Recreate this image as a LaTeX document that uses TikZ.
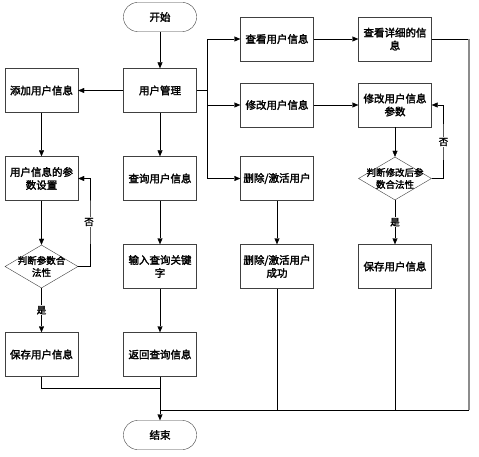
\documentclass[tikz,border=0pt]{standalone}
\usepackage{fontspec}
\setmainfont{Noto Sans CJK SC}[AutoFakeBold=2.2]
\usepackage{tikz}
\usetikzlibrary{arrows.meta,shapes.geometric,shadows}
\definecolor{Edge}{HTML}{404040}
\definecolor{Rail}{HTML}{8C8C8C}

\begin{document}
\begin{tikzpicture}[x=1pt,y=-1pt,font=\bfseries\fontsize{10.5}{13}\selectfont,
    >={Triangle[length=6pt,width=5pt]},
    box/.style={draw=Edge,fill=white,align=center,minimum width=73pt,minimum height=44pt,inner sep=1pt,
      drop shadow={shadow xshift=.8pt,shadow yshift=-.8pt,fill=black!25,opacity=1}},
    term/.style={draw=Edge,fill=white,rounded corners=14pt,minimum width=73pt,minimum height=29pt},
    decide/.style={draw=Edge,fill=white,diamond,aspect=1.7,minimum width=73pt,minimum height=43pt,inner sep=0pt},
    tag/.style={fill=white,inner sep=1pt,font=\bfseries\fontsize{9.5}{12}\selectfont}]
  \useasboundingbox (0,0) rectangle (479,457);
  % middle column
  \node[term] (start) at (160,17) {开始};
  \node[box] (mgr) at (160,90.5) {用户管理};
  \node[box] (query) at (160,178.5) {查询用户信息};
  \node[box] (kw) at (160,266.5) {输入查询关键\\字};
  \node[box] (ret) at (160,354.5) {返回查询信息};
  \node[term] (stop) at (160,435) {结束};
  % left column
  \node[box] (add) at (41.5,90.5) {添加用户信息};
  \node[box] (para) at (41.5,178.5) {用户信息的参\\数设置};
  \node[decide,label={[align=center,font=\bfseries\fontsize{9.5}{12}\selectfont]center:判断参数合\\法性}] (chk) at (41.5,266.5) {};
  \node[box] (saveL) at (41.5,354.5) {保存用户信息};
  % right columns
  \node[box] (view) at (277,39) {查看用户信息};
  \node[box] (detail) at (395,39) {查看详细的信\\息};
  \node[box] (mod) at (277,105) {修改用户信息};
  \node[box] (modp) at (395,105) {修改用户信息\\参数};
  \node[box] (del) at (277,178.5) {删除/激活用户};
  \node[decide,label={[align=center,font=\bfseries\fontsize{9.5}{12}\selectfont]center:判断修改后参\\数合法性}] (chk2) at (395,178.5) {};
  \node[box] (delok) at (277,266.5) {删除/激活用户\\成功};
  \node[box] (saveR) at (395,266.5) {保存用户信息};
  \coordinate (bus) at (207,90.5);
  \coordinate (j1) at (160,388);
  \coordinate (j2) at (160,410);
  \coordinate (rail) at (469,39);

  \draw[->] (start)--(mgr);\draw[->] (mgr)--(query);\draw[->] (query)--(kw);\draw[->] (kw)--(ret);\draw[->] (ret)--(stop);
  \draw[->] (mgr)--(add);\draw[->] (add)--(para);\draw[->] (para)--(chk);
  \draw[->] (chk.east)-|(90,222)|-(para.east);\node[tag] (no1) at (89,222) {否};
  \draw[->] (chk)--(saveL) node[tag,pos=.5] (yes1) {是};
  \draw (saveL.south)|-(j1);
  \draw (mgr.east)--(bus);\draw[->] (bus)|-(view.west);\draw[->] (bus)|-(mod.west);\draw[->] (bus)|-(del.west);
  \draw[->] (view)--(detail);\draw[->] (mod)--(modp);\draw[->] (modp)--(chk2);\draw[->] (del)--(delok);
  \draw[->] (chk2.east)-|(443,142)|-(modp.east);\node[tag] (no2) at (443.5,142) {否};
  \draw[->] (chk2)--(saveR) node[tag,pos=.5] (yes2) {是};
  \draw (detail.east)--(rail);\draw[Rail,line width=1.3pt] (rail)--(rail|-j2);
  \draw (rail|-j2)--(j2);
  \draw (delok.south)--(delok|-j2);\draw (saveR.south)--(saveR|-j2);
\end{tikzpicture}
\end{document}
